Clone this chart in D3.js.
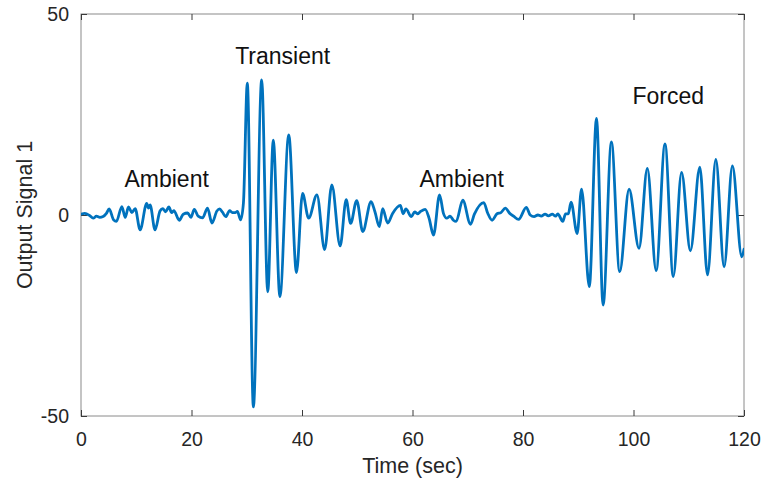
<!DOCTYPE html>
<html>
<head>
<meta charset="utf-8">
<script src="https://cdn.jsdelivr.net/npm/d3@7/dist/d3.min.js"></script>
<style>
  html, body { margin: 0; padding: 0; background: #ffffff; }
  svg { display: block; font-family: "Liberation Sans", Arial, Helvetica, sans-serif; }
</style>
</head>
<body>
<svg id="chart" width="763" height="482"></svg>
<script>
// Output signal 1 sampled at its turning points (time in seconds, amplitude)
const timeSec = [
  0, 0.7, 1.6, 2.2, 2.8, 3.4, 4.0, 4.6, 5.1, 5.9, 6.4, 7.4, 8.0, 8.6, 9.2, 9.8,
  10.7, 11.9, 12.2, 12.5, 13.4, 14.3, 14.8, 15.3, 15.9, 16.4, 16.8, 17.8, 18.5,
  19.3, 19.9, 20.5, 21.2, 22.0, 22.9, 23.7, 24.6, 25.1, 25.6, 26.2, 26.9, 27.4,
  27.9, 28.3, 28.9, 29.4,
  30.1, 31.2, 32.7, 33.8, 34.8, 36.0, 37.6, 39.0, 40.1, 41.2, 42.7, 44.1, 45.4,
  46.9, 48.0, 48.8, 49.9, 51.0, 52.5, 53.2, 54.0,
  54.6, 55.5, 56.4, 57.8, 58.3, 58.8, 59.8, 60.4, 60.9, 61.4, 62.3, 63.0, 63.8,
  64.9, 65.6, 66.2, 66.8, 67.4, 67.9, 69.1, 70.5, 71.2, 72.9, 73.6, 74.4, 75.3,
  76.0, 76.8, 77.6, 78.3, 79.2, 80.6, 81.3, 82.0, 82.7, 83.3, 84.0, 84.6, 85.3,
  85.9, 86.3, 87.2, 87.7, 88.2, 88.7, 89.8,
  90.6, 92.0, 93.3, 94.5, 96.0, 97.5, 99.2, 101.0, 102.5, 104.1, 105.7, 107.2,
  108.7, 110.3, 112.0, 113.4, 114.9, 116.4, 117.9, 119.6, 120.0
];
const signal = [
  0.2, 0.4, -0.2, -0.8, -0.3, -0.6, -0.4, 0.4, 1.5, -1.2, -1.6, 2.1, -0.6, 2.0, 0.6, 1.6,
  -3.7, 2.9, 1.7, 2.5, -3.7, 1.0, 1.6, 0.8, 2.0, 0.6, 1.1, -1.3, 0.2,
  0.5, -0.6, 1.4, -0.3, -0.7, 1.7, -2.0, 1.0, 1.5, 0.7, -0.4, 1.1, 0.6,
  0.6, 0.9, -1.2, 3.0,
  32.8, -47.7, 33.6, -19.1, 18.6, -20.3, 19.9, -14.3, 5.4, -0.8, 5.0, -8.6, 7.5,
  -7.7, 3.8, -2.1, 3.6, -4.1, 3.3, 0.8, -2.9,
  1.6, -2.0, 0.4, 2.4, 0.3, 1.5, -0.4, 0.8, 0.3, 0.8, 1.4, -0.8, -5.0,
  5.0, 0.4, -0.8, -0.3, -1.3, -1.6, 3.7, -2.3, 0.2, 3.1, 0.5, -1.3, 0.3,
  0.6, 1.7, 0.4, -0.3, -1.1, 1.9, 0.0, -0.4, 0.0, -0.3, 0.2, -0.2, 0.2,
  -0.3, 0.3, -1.6, 0.3, 0.3, 3.2, -4.6,
  6.4, -17.8, 24.0, -22.4, 18.2, -14.1, 6.4, -8.3, 11.6, -13.8, 17.7, -15.3,
  10.6, -8.9, 11.9, -14.9, 13.8, -12.9, 12.2, -10.4, -8.5
];

const xTicks = [0, 20, 40, 60, 80, 100, 120];
const yTicks = [-50, 0, 50];

// Regime annotations, anchored in data units (time, amplitude)
const regimeNames = ["Ambient", "Transient", "Ambient", "Forced"];
const regimeTime  = [15.5, 36.5, 68.9, 106.3];
const regimeLevel = [9.0, 39.6, 9.0, 29.6];

const xLabel = "Time (sec)";
const yLabel = "Output Signal 1";

const svg = d3.select("#chart");
const plot = { left: 81, right: 744, top: 14, bottom: 416 };

const x = d3.scaleLinear().domain([0, 120]).range([plot.left, plot.right]);
const y = d3.scaleLinear().domain([-50, 50]).range([plot.bottom, plot.top]);

const textColor = "#262626";
const tickLen = 6;
const plainNumber = d => String(d);

// Box
svg.append("rect")
  .attr("x", plot.left).attr("y", plot.top)
  .attr("width", plot.right - plot.left).attr("height", plot.bottom - plot.top)
  .attr("fill", "none").attr("stroke", "#8a8a8a").attr("stroke-width", 1);

function styleAxis(g) {
  g.select(".domain").remove();
  g.selectAll(".tick line").attr("stroke", "#3a3a3a").attr("stroke-width", 1);
  g.selectAll(".tick text").attr("fill", textColor).attr("font-size", 19.5)
    .attr("font-family", "'Liberation Sans', Arial, sans-serif");
}

// Bottom axis (ticks point inward)
svg.append("g")
  .attr("transform", `translate(0,${plot.bottom})`)
  .call(d3.axisBottom(x).tickValues(xTicks).tickFormat(plainNumber)
    .tickSizeInner(-tickLen).tickSizeOuter(0).tickPadding(tickLen + 10))
  .call(styleAxis);

// Top mirrored ticks
svg.append("g")
  .attr("transform", `translate(0,${plot.top})`)
  .call(d3.axisTop(x).tickValues(xTicks).tickSizeInner(-tickLen).tickSizeOuter(0).tickFormat(""))
  .call(styleAxis);

// Left axis
svg.append("g")
  .attr("transform", `translate(${plot.left},0)`)
  .call(d3.axisLeft(y).tickValues(yTicks).tickFormat(plainNumber)
    .tickSizeInner(-tickLen).tickSizeOuter(0).tickPadding(tickLen + 6))
  .call(styleAxis);

// Right mirrored ticks
svg.append("g")
  .attr("transform", `translate(${plot.right},0)`)
  .call(d3.axisRight(y).tickValues(yTicks).tickSizeInner(-tickLen).tickSizeOuter(0).tickFormat(""))
  .call(styleAxis);

// Signal trace
const samples = timeSec.map((t, i) => ({ t, v: signal[i] }));
const line = d3.line()
  .x(d => x(d.t))
  .y(d => y(d.v))
  .curve(d3.curveMonotoneX);

svg.append("defs").append("clipPath").attr("id", "plot-clip")
  .append("rect")
  .attr("x", plot.left).attr("y", plot.top)
  .attr("width", plot.right - plot.left).attr("height", plot.bottom - plot.top);

svg.append("path")
  .datum(samples)
  .attr("clip-path", "url(#plot-clip)")
  .attr("fill", "none")
  .attr("stroke", "#0072BD")
  .attr("stroke-width", 2.8)
  .attr("stroke-linejoin", "round")
  .attr("stroke-linecap", "round")
  .attr("d", line);

// Regime annotations
svg.append("g").selectAll("text")
  .data(regimeNames)
  .join("text")
  .attr("x", (d, i) => x(regimeTime[i]))
  .attr("y", (d, i) => y(regimeLevel[i]))
  .attr("text-anchor", "middle")
  .attr("dominant-baseline", "central")
  .attr("font-size", 23)
  .attr("fill", "#111111")
  .text(d => d);

// Axis labels
svg.append("text")
  .attr("x", (plot.left + plot.right) / 2)
  .attr("y", 473)
  .attr("text-anchor", "middle")
  .attr("font-size", 21.5)
  .attr("fill", textColor)
  .text(xLabel);

svg.append("text")
  .attr("transform", `translate(32,${y(0)}) rotate(-90)`)
  .attr("text-anchor", "middle")
  .attr("font-size", 21.5)
  .attr("fill", textColor)
  .text(yLabel);
</script>
</body>
</html>
